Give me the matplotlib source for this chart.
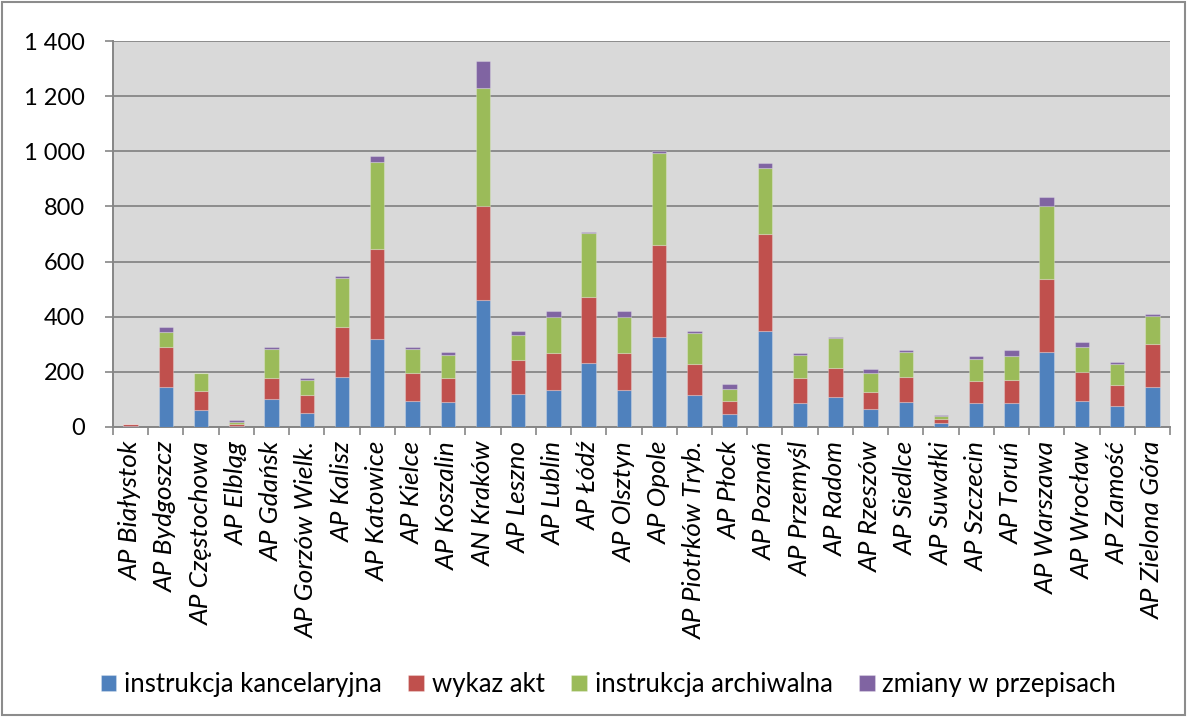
import matplotlib
matplotlib.use("Agg")
import matplotlib.pyplot as plt
import numpy as np
from matplotlib.patches import Rectangle
from matplotlib.ticker import FuncFormatter, FixedLocator

plt.rcParams["font.family"] = ["Lato", "DejaVu Sans"]

archives = [
    "AP Białystok", "AP Bydgoszcz", "AP Częstochowa", "AP Elbląg", "AP Gdańsk",
    "AP Gorzów Wielk.", "AP Kalisz", "AP Katowice", "AP Kielce", "AP Koszalin",
    "AN Kraków", "AP Leszno", "AP Lublin", "AP Łódź", "AP Olsztyn",
    "AP Opole", "AP Piotrków Tryb.", "AP Płock", "AP Poznań", "AP Przemyśl",
    "AP Radom", "AP Rzeszów", "AP Siedlce", "AP Suwałki", "AP Szczecin",
    "AP Toruń", "AP Warszawa", "AP Wrocław", "AP Zamość", "AP Zielona Góra",
]
kancelaryjna = [2, 144, 63, 5, 100, 52, 181, 319, 95, 92,
                461, 120, 134, 233, 134, 328, 115, 48, 348, 86,
                109, 66, 90, 15, 86, 86, 272, 95, 76, 144]
wykaz_akt = [8, 147, 66, 6, 76, 64, 181, 328, 101, 84,
             342, 123, 133, 238, 133, 333, 114, 47, 351, 90,
             106, 62, 91, 14, 81, 85, 265, 105, 76, 157]
archiwalna = [0, 52, 67, 8, 108, 55, 180, 313, 88, 85,
              428, 90, 133, 231, 133, 332, 113, 44, 242, 85,
              109, 68, 91, 9, 79, 86, 266, 90, 76, 103]
zmiany = [2, 19, 1, 5, 6, 6, 6, 24, 6, 11,
          95, 15, 19, 7, 19, 9, 6, 18, 16, 7,
          4, 14, 8, 5, 10, 24, 30, 19, 6, 5]

series = [
    ("instrukcja kancelaryjna", kancelaryjna, "#4F81BD"),
    ("wykaz akt", wykaz_akt, "#C0504D"),
    ("instrukcja archiwalna", archiwalna, "#9BBB59"),
    ("zmiany w przepisach", zmiany, "#8064A2"),
]

fig = plt.figure(figsize=(11.87, 7.17), dpi=100)
ax = fig.add_axes([0.0952, 0.4045, 0.8905, 0.5383])
ax.set_facecolor("#D9D9D9")

x = np.arange(len(archives))
bottom = np.zeros(len(archives))
for label, values, color in series:
    values = np.asarray(values, dtype=float)
    ax.bar(x, values, width=0.41, bottom=bottom, color=color, label=label,
           edgecolor=(1, 1, 1, 0.25), linewidth=0.8, zorder=3)
    bottom += values

ax.set_xlim(-0.5, len(archives) - 0.5)
ax.set_ylim(0, 1400)
ax.set_yticks(np.arange(0, 1401, 200))
ax.yaxis.set_major_formatter(FuncFormatter(lambda v, _: f"{int(v):,}".replace(",", " ")))
ax.grid(axis="y", color="#8C8C8C", linewidth=1.4, zorder=1)
ax.set_axisbelow(True)

ax.set_xticks(x)
ax.set_xticklabels(archives, rotation=90, fontstyle="italic", fontsize=19, ha="center", va="top")
ax.tick_params(axis="x", length=0, pad=10)
ax.xaxis.set_minor_locator(FixedLocator(np.arange(-0.5, len(archives), 1.0)))
ax.tick_params(axis="x", which="minor", length=6, color="#868686", width=1.2)
ax.tick_params(axis="y", length=6, color="#868686", width=1.2, labelsize=17, pad=14)

for side in ("top", "right"):
    ax.spines[side].set_visible(False)
for side in ("left", "bottom"):
    ax.spines[side].set_color("#868686")
    ax.spines[side].set_linewidth(1.4)

fig.legend(loc="center", bbox_to_anchor=(0.5126, 0.045), ncol=4, frameon=False,
           fontsize=18.5, handlelength=0.6, handleheight=0.6, handletextpad=0.3,
           columnspacing=1.05)

fig.patches.append(Rectangle((0.002, 0.003), 0.996, 0.994, transform=fig.transFigure,
                             fill=False, edgecolor="#8C8C8C", linewidth=1.5))

fig.savefig("out.png", dpi=100)
